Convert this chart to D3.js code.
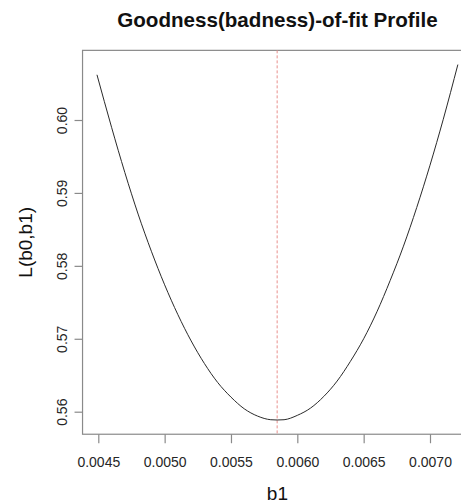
<!DOCTYPE html>
<html>
<head>
<meta charset="utf-8">
<script src="https://cdn.jsdelivr.net/npm/d3@7"></script>
<style>
  body { margin: 0; background: #fff; }
  svg { display: block; font-family: "Liberation Sans", Arial, sans-serif; }
</style>
</head>
<body>
<div class="chart"></div>
<script>
// values
const b1Values = [0.00449, 0.0046, 0.0047, 0.0048, 0.0049, 0.0050, 0.0051, 0.0052, 0.0053, 0.0054,
  0.0055, 0.0056, 0.0057, 0.0058, 0.005848, 0.0059, 0.0060, 0.0061, 0.0062, 0.0063,
  0.0064, 0.0065, 0.0066, 0.0067, 0.0068, 0.0069, 0.0070, 0.0071, 0.00721]
const lossValues = [0.6062, 0.5990, 0.5928, 0.5871, 0.5820, 0.5774, 0.5733, 0.5697, 0.5666, 0.5640,
  0.5620, 0.5604, 0.5594, 0.5589, 0.55886, 0.5589, 0.5595, 0.5605, 0.5621, 0.5642,
  0.5669, 0.5700, 0.5737, 0.5780, 0.5827, 0.5880, 0.5938, 0.6001, 0.6076]
const xTicks = [0.0045, 0.0050, 0.0055, 0.0060, 0.0065, 0.0070]
const yTicks = [0.56, 0.57, 0.58, 0.59, 0.60]
const bestB1 = 0.005848

const data = b1Values.map((b, i) => ({ b1: b, L: lossValues[i] }))

const width = 461, height = 503

const svg = d3.select(".chart")
  .append("svg")
  .attr("width", width)
  .attr("height", height)

const x = d3.scaleLinear().domain([0.0045, 0.0070]).range([98.3, 430])
const y = d3.scaleLinear().domain([0.56, 0.60]).range([411.7, 120])

// R style: data range extended by 4% on each side
const xe = d3.extent(b1Values), ye = d3.extent(lossValues)
const xPad = (xe[1] - xe[0]) * 0.04, yPad = (ye[1] - ye[0]) * 0.04
const boxLeft = x(xe[0] - xPad), boxRight = x(xe[1] + xPad)
const boxTop = y(ye[1] + yPad), boxBottom = y(ye[0] - yPad)

const axisColor = "#8a8a8a"
const textColor = "#262626"
const tickFont = 14

// box
svg.append("rect")
  .attr("x", boxLeft).attr("y", boxTop)
  .attr("width", boxRight - boxLeft).attr("height", boxBottom - boxTop)
  .attr("fill", "none")
  .attr("stroke", axisColor)
  .attr("stroke-width", 1.2)

// x axis
const xAxis = svg.append("g")
  .attr("transform", `translate(0,${boxBottom})`)
  .call(d3.axisBottom(x).tickValues(xTicks).tickFormat(d3.format(".4f")).tickSize(9))
xAxis.select(".domain").remove()
xAxis.selectAll("line").attr("stroke", axisColor).attr("stroke-width", 1.2)
xAxis.selectAll("text")
  .attr("fill", textColor).attr("font-size", tickFont)
  .attr("font-family", "Liberation Sans, Arial, sans-serif")
  .attr("y", 33).attr("dy", null)

// y axis, labels rotated like R's default
const yAxis = svg.append("g")
  .attr("transform", `translate(${boxLeft},0)`)
  .call(d3.axisLeft(y).tickValues(yTicks).tickFormat(d3.format(".2f")).tickSize(8))
yAxis.select(".domain").remove()
yAxis.selectAll("line").attr("stroke", axisColor).attr("stroke-width", 1.2)
yAxis.selectAll("text")
  .attr("fill", textColor).attr("font-size", tickFont)
  .attr("font-family", "Liberation Sans, Arial, sans-serif")
  .attr("x", null).attr("dy", null)
  .attr("text-anchor", "middle")
  .attr("transform", "translate(-16,0) rotate(-90)")

// reference line at the minimum
svg.append("line")
  .attr("x1", x(bestB1)).attr("x2", x(bestB1))
  .attr("y1", boxTop).attr("y2", boxBottom)
  .attr("stroke", "#e8908c")
  .attr("stroke-width", 1)
  .attr("stroke-dasharray", "3,2")

// the profile curve
svg.append("path")
  .datum(data)
  .attr("fill", "none")
  .attr("stroke", "#2a2a2a")
  .attr("stroke-width", 1)
  .attr("d", d3.line()
    .x(d => x(d.b1))
    .y(d => y(d.L))
    .curve(d3.curveMonotoneX))

// titles
svg.append("text")
  .attr("x", (boxLeft + boxRight) / 2).attr("y", 26.5)
  .attr("text-anchor", "middle")
  .attr("font-size", 20.6).attr("font-weight", "bold")
  .attr("fill", "#111")
  .text("Goodness(badness)-of-fit Profile")

svg.append("text")
  .attr("x", (boxLeft + boxRight) / 2).attr("y", 500)
  .attr("text-anchor", "middle")
  .attr("font-size", 19)
  .attr("fill", "#111")
  .text("b1")

svg.append("text")
  .attr("transform", `translate(32,${(boxTop + boxBottom) / 2}) rotate(-90)`)
  .attr("text-anchor", "middle")
  .attr("font-size", 19)
  .attr("fill", "#111")
  .text("L(b0,b1)")
</script>
</body>
</html>
